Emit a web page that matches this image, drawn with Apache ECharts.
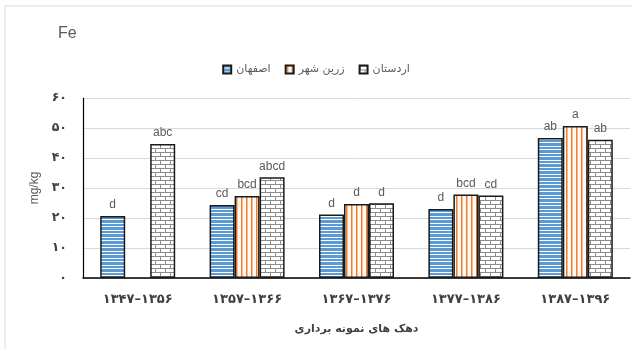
<!DOCTYPE html>
<html>
<head>
<meta charset="utf-8">
<script src="https://cdn.jsdelivr.net/npm/echarts@6/dist/echarts.min.js"></script>
<style>
  html, body { margin: 0; padding: 0; background: #fff; }
  #chart { width: 632px; height: 349px; }
</style>
</head>
<body>
<div id="chart"></div>
<script>
// Sampling decades (Iranian calendar)
const categories = ['۱۳۴۷–۱۳۵۶', '۱۳۵۷–۱۳۶۶', '۱۳۶۷–۱۳۷۶', '۱۳۷۷–۱۳۸۶', '۱۳۸۷–۱۳۹۶'];
const seriesNames = ['اصفهان', 'زرین شهر', 'اردستان'];

// Fe concentration (mg/kg) by city
const esfahan     = [20.7, 24.3, 21.2, 23.0, 46.7];
const zarrinShahr = [null, 27.3, 24.7, 27.8, 50.7];
const ardestan    = [44.7, 33.6, 24.9, 27.5, 46.1];

// Significance letters above each bar
const esfahanLetters     = ['d', 'cd', 'd', 'd', 'ab'];
const zarrinShahrLetters = ['', 'bcd', 'd', 'bcd', 'a'];
const ardestanLetters    = ['abc', 'abcd', 'd', 'cd', 'ab'];

const yTicks = [0, 10, 20, 30, 40, 50, 60];

const toPersianDigits = s => String(s).replace(/\d/g, d => '۰۱۲۳۴۵۶۷۸۹'[d]);

// Fill patterns
function stripePattern() {
  const c = document.createElement('canvas');
  c.width = 4; c.height = 7;
  const g = c.getContext('2d');
  g.fillStyle = '#ffffff'; g.fillRect(0, 0, 4, 7);
  g.fillStyle = '#5b9bd5';
  g.fillRect(0, 0, 4, 2);
  g.fillRect(0, 3, 4, 3);
  return c;
}
function verticalPattern() {
  const c = document.createElement('canvas');
  c.width = 5; c.height = 4;
  const g = c.getContext('2d');
  g.fillStyle = '#fff8f2'; g.fillRect(0, 0, 5, 4);
  g.fillStyle = '#ed7d31';
  g.fillRect(1, 0, 1.5, 4);
  return c;
}
function brickPattern() {
  const c = document.createElement('canvas');
  c.width = 10; c.height = 8;
  const g = c.getContext('2d');
  g.fillStyle = '#ffffff'; g.fillRect(0, 0, 10, 8);
  g.fillStyle = '#8c8c8c';
  g.fillRect(0, 0, 10, 1);
  g.fillRect(0, 4, 10, 1);
  g.fillRect(0, 0, 1, 4);
  g.fillRect(5, 4, 1, 4);
  return c;
}

const fills = [
  { image: stripePattern(), repeat: 'repeat' },
  { image: verticalPattern(), repeat: 'repeat' },
  { image: brickPattern(), repeat: 'repeat' }
];
const values = [esfahan, zarrinShahr, ardestan];
const letters = [esfahanLetters, zarrinShahrLetters, ardestanLetters];

const persianFont = '"DejaVu Sans", sans-serif';

const chart = echarts.init(document.getElementById('chart'), null, { renderer: 'canvas' });

chart.setOption({
  animation: false,
  backgroundColor: '#ffffff',
  graphic: [{
    type: 'rect',
    shape: { x: 5, y: 6, width: 640, height: 360 },
    style: { fill: 'none', stroke: '#d9d9d9', lineWidth: 1 },
    silent: true
  }],
  title: {
    text: 'Fe',
    left: 53, top: 21,
    textStyle: { fontFamily: '"Liberation Sans", Arial, sans-serif', fontSize: 16, fontWeight: 'normal', color: '#595959' }
  },
  legend: {
    data: seriesNames,
    icon: 'rect',
    left: 'center', top: 59,
    itemWidth: 8, itemHeight: 8, itemGap: 14,
    textStyle: { fontFamily: persianFont, fontSize: 11, color: '#595959' }
  },
  grid: { left: 83, right: 2, top: 98, bottom: 71, containLabel: false },
  xAxis: {
    type: 'category',
    data: categories,
    name: 'دهک های نمونه برداری',
    nameLocation: 'middle',
    nameGap: 46,
    nameTextStyle: { fontFamily: persianFont, fontSize: 11, fontWeight: 'bold', color: '#404040' },
    axisLine: { lineStyle: { color: '#000', width: 1.5 } },
    axisTick: { show: false },
    axisLabel: { margin: 15, fontFamily: persianFont, fontSize: 13, fontWeight: 'bold', color: '#404040' }
  },
  yAxis: {
    type: 'value',
    min: yTicks[0], max: yTicks[yTicks.length - 1], interval: 10,
    name: 'mg/kg',
    nameLocation: 'middle',
    nameGap: 41,
    nameRotate: 90,
    nameTextStyle: { fontFamily: '"Liberation Sans", Arial, sans-serif', fontSize: 12, color: '#595959' },
    axisLine: { show: true, lineStyle: { color: '#000', width: 1.2 } },
    axisTick: { show: false },
    splitLine: { lineStyle: { color: '#d9d9d9', width: 1 } },
    axisLabel: {
      margin: 16,
      fontFamily: persianFont, fontSize: 12.5, fontWeight: 'bold', color: '#404040',
      formatter: v => toPersianDigits(v)
    }
  },
  series: seriesNames.map((name, i) => ({
    name,
    type: 'bar',
    data: values[i],
    barWidth: 25,
    barGap: '0%',
    itemStyle: { color: fills[i], borderColor: '#1a1a1a', borderWidth: 1.5 },
    label: {
      show: true,
      position: 'top',
      distance: 5,
      fontFamily: '"Liberation Sans", Arial, sans-serif',
      fontSize: 12,
      color: '#595959',
      formatter: p => letters[i][p.dataIndex]
    }
  }))
});
</script>
</body>
</html>
